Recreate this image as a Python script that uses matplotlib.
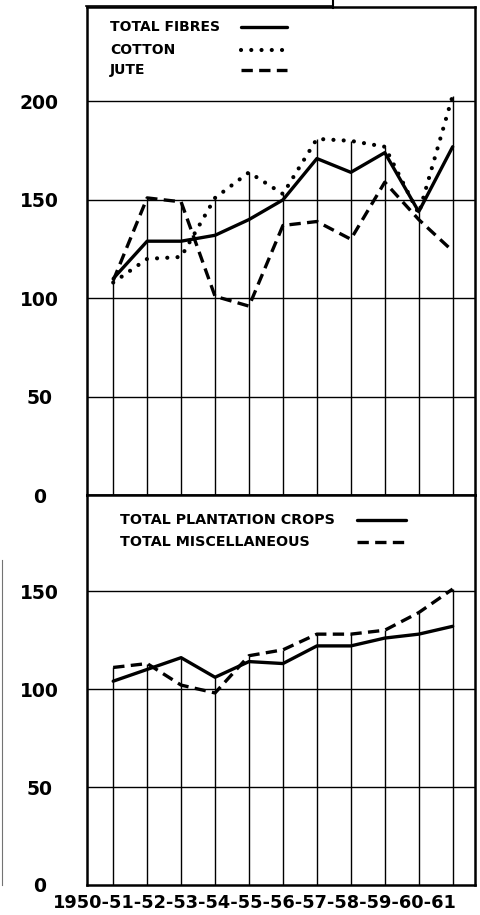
import matplotlib
matplotlib.use("Agg")
import matplotlib.pyplot as plt
from matplotlib.lines import Line2D
import numpy as np

# index numbers, 1950-51 ... 1960-61
years = ["1950-51", "1951-52", "1952-53", "1953-54", "1954-55", "1955-56",
         "1956-57", "1957-58", "1958-59", "1959-60", "1960-61"]
fibres = [110, 129, 129, 132, 140, 150, 171, 164, 174, 144, 177]
cotton = [108, 120, 121, 151, 164, 153, 181, 180, 177, 143, 203]
jute = [109, 151, 149, 101, 96, 137, 139, 130, 159, 140, 124]
plantation = [104, 110, 116, 106, 114, 113, 122, 122, 126, 128, 132]
misc = [111, 113, 102, 98, 117, 120, 128, 128, 130, 139, 151]

top_ticks = [0, 50, 100, 150, 200]
bot_ticks = [0, 50, 100, 150]
xlabel_text = "1950-51-52-53-54-55-56-57-58-59-60-61"

BOLD = dict(family="DejaVu Sans", fontweight="bold", color="black")
SOLID = dict(color="black", lw=2.4, solid_capstyle="round", solid_joinstyle="round")
DOTTED = dict(color="black", lw=3.0, linestyle=(0, (0.01, 2.45)), dash_capstyle="round")
DASHED = dict(color="black", lw=2.4, linestyle=(0, (3.4, 1.9)))

fig = plt.figure(figsize=(4.81, 9.15), dpi=100)
ax1 = fig.add_axes([0.181, 0.459, 0.8067, 0.5333])
ax2 = fig.add_axes([0.181, 0.0328, 0.8067, 0.4262])

x = np.arange(len(years))


def setup(ax, ymax, ticks, series):
    ax.set_xlim(-0.77, 10.66)
    ax.set_ylim(0, ymax)
    for t in ticks[1:]:
        ax.axhline(t, color="black", lw=1.0, zorder=1)
    # drop lines from the highest value down to zero
    top = np.max(np.array(series), axis=0)
    ax.vlines(x, 0, top, color="black", lw=1.0, zorder=1)
    ax.set_xticks([])
    ax.set_yticks(ticks)
    ax.set_yticklabels([str(t) for t in ticks], ha="center", fontsize=13.5, **BOLD)
    ax.tick_params(axis="y", length=0, pad=34.5)
    for s in ax.spines.values():
        s.set_linewidth(1.8)


setup(ax1, 248, top_ticks, [fibres, cotton, jute])
setup(ax2, 199, bot_ticks, [plantation, misc])

ax1.plot(x, fibres, zorder=3, **SOLID)
ax1.plot(x, cotton, zorder=3, **DOTTED)
ax1.plot(x, jute, zorder=3, **DASHED)

ax2.plot(x, plantation, zorder=3, **SOLID)
ax2.plot(x, misc, zorder=3, **DASHED)

# hand-drawn style legends: label text then line sample
leg1 = [("TOTAL FIBRES", SOLID, 0.959), ("COTTON", DOTTED, 0.912), ("JUTE", DASHED, 0.871)]
for label, style, yy in leg1:
    ax1.text(0.059, yy, label, transform=ax1.transAxes, fontsize=10, va="center", **BOLD)
    ax1.plot([0.398, 0.515], [yy, yy], transform=ax1.transAxes, **style)

leg2 = [("TOTAL PLANTATION CROPS", SOLID, 0.936), ("TOTAL MISCELLANEOUS", DASHED, 0.879)]
for label, style, yy in leg2:
    ax2.text(0.085, yy, label, transform=ax2.transAxes, fontsize=10.3, va="center", **BOLD)
    ax2.plot([0.695, 0.822], [yy, yy], transform=ax2.transAxes, **style)

fig.text(0.530, 0.0135, xlabel_text, ha="center", va="center", fontsize=12.8, **BOLD)

# scan marks at the edges of the original page
fig.add_artist(Line2D([333 / 481, 333 / 481], [1.0, 1 - 8 / 915], color="black", lw=1.5))
fig.add_artist(Line2D([86 / 481, 333 / 481], [1 - 6 / 915, 1 - 6 / 915], color="black", lw=1.2))
fig.add_artist(Line2D([1.5 / 481, 1.5 / 481], [1 - 560 / 915, 1 - 885 / 915], color="0.45", lw=0.8))

fig.savefig("out.png", dpi=100, facecolor="white")
